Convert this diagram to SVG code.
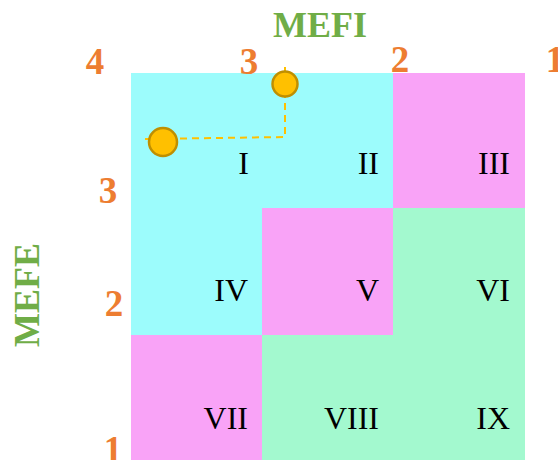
<svg xmlns="http://www.w3.org/2000/svg" width="558" height="460" viewBox="0 0 558 460">
<style>
.cy{fill:#9CFCFC}.pk{fill:#F9A3F7}.gr{fill:#A3F9CF}
.rn{font-family:"Liberation Serif","Times New Roman",serif;font-size:32px;fill:#000;text-anchor:end}
.num{font-family:"Liberation Serif","Times New Roman",serif;font-size:37px;font-weight:bold;fill:#ED7D31;text-anchor:middle}
.ttl{font-family:"Liberation Serif","Times New Roman",serif;font-size:36px;font-weight:bold;fill:#70AD47;text-anchor:middle}
.dot{fill:#FFC000;stroke:#BF8F00;stroke-width:2.5}
.dash{fill:none;stroke:#FFC000;stroke-width:2;stroke-dasharray:7,5}
</style>
<g id="grid">
<rect class="cy" x="131" y="73" width="262" height="135"/>
<rect class="pk" x="393" y="73" width="132" height="135"/>
<rect class="cy" x="131" y="208" width="131" height="127"/>
<rect class="pk" x="262" y="208" width="131" height="127"/>
<rect class="gr" x="393" y="208" width="132" height="127"/>
<rect class="pk" x="131" y="335" width="131" height="125"/>
<rect class="gr" x="262" y="335" width="263" height="125"/>
</g>
<g id="cells">
<text class="rn" x="249" y="174">I</text>
<text class="rn" x="379" y="174">II</text>
<text class="rn" x="510" y="174">III</text>
<text class="rn" x="248" y="301">IV</text>
<text class="rn" x="379" y="301">V</text>
<text class="rn" x="510" y="301">VI</text>
<text class="rn" x="248" y="429">VII</text>
<text class="rn" x="379" y="429">VIII</text>
<text class="rn" x="510" y="429">IX</text>
</g>
<g id="labels">
<text class="ttl" x="320" y="37">MEFI</text>
<text class="ttl" transform="translate(39,295) rotate(-90)" x="0" y="0">MEFE</text>
<text class="num" x="95" y="74">4</text>
<text class="num" x="249" y="74">3</text>
<text class="num" x="400" y="72">2</text>
<text class="num" x="555" y="72">1</text>
<text class="num" x="108" y="203">3</text>
<text class="num" x="114" y="316">2</text>
<text class="num" x="113" y="462">1</text>
</g>
<g id="connectors">
<polyline class="dash" points="285,67 285,137 145,139"/>
</g>
<g id="point-a"><circle class="dot" cx="285" cy="84" r="12.5"/></g>
<g id="point-b"><circle class="dot" cx="163" cy="142" r="14"/></g>
</svg>
